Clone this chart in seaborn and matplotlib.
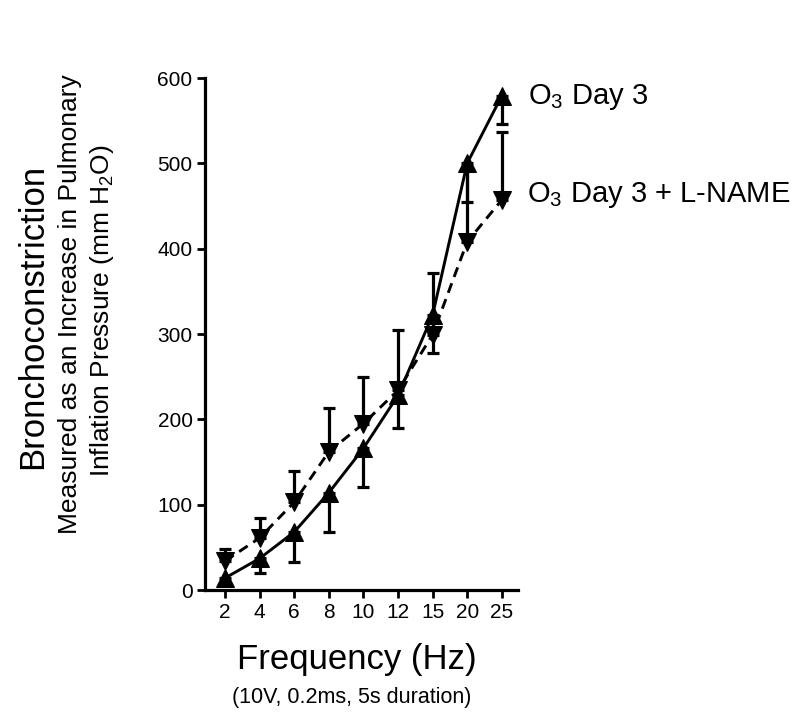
import matplotlib
matplotlib.use('Agg')
import matplotlib.pyplot as plt
import seaborn as sns
import numpy as np

# dados
freq_labels = ['2', '4', '6', '8', '10', '12', '15', '20', '25']
o3_mean = [14, 37, 68, 114, 166, 228, 322, 500, 579]
o3_err_low = [8, 17, 35, 46, 45, 38, 44, 45, 33]
lname_mean = [34, 61, 103, 162, 195, 234, 299, 408, 457]
lname_err_up = [14, 23, 37, 51, 55, 71, 73, 88, 80]

sns.set_theme(style="ticks")
plt.rcParams['font.family'] = ['Liberation Sans', 'DejaVu Sans']
plt.rcParams['mathtext.default'] = 'regular'
plt.rcParams['text.color'] = 'black'

W, H = 799, 728
fig = plt.figure(figsize=(W / 100, H / 100), dpi=100)
ax = fig.add_axes([205 / W, 1 - 590 / H, 313 / W, 512 / H])

pos = np.arange(len(freq_labels))

# barras de erro (uma só direção)
ax.errorbar(pos, o3_mean, yerr=[o3_err_low, np.zeros(len(pos))], fmt='none',
            ecolor='black', elinewidth=2.3, capsize=4.5, capthick=2.3, zorder=2)
ax.errorbar(pos, lname_mean, yerr=[np.zeros(len(pos)), lname_err_up], fmt='none',
            ecolor='black', elinewidth=2.3, capsize=4.5, capthick=2.3, zorder=2)

sns.lineplot(x=pos, y=o3_mean, ax=ax, color='black', linewidth=2.1,
             marker='^', markersize=12.5, markeredgecolor='black', zorder=3)
sns.lineplot(x=pos, y=lname_mean, ax=ax, color='black', linewidth=2.1,
             linestyle=(0, (3.5, 2.3)), marker='v', markersize=12.5,
             markeredgecolor='black', zorder=3)

ax.set_xlim(-0.58, 8.47)
ax.set_ylim(0, 600)
ax.set_xticks(pos)
ax.set_xticklabels(freq_labels)
ax.set_yticks(range(0, 601, 100))
ax.tick_params(axis='both', labelsize=15, length=6, width=2, pad=3, color='black',
               labelcolor='black')
for s in ['left', 'bottom']:
    ax.spines[s].set_linewidth(2.3)
    ax.spines[s].set_color('black')
sns.despine(ax=ax)

# rótulos do eixo y (três linhas)
fig.text(33 / W, 1 - 316 / H, 'Bronchoconstriction', rotation=90, fontsize=25,
         ha='center', va='center')
fig.text(70 / W, 1 - 304 / H, 'Measured as an Increase in Pulmonary', rotation=90,
         fontsize=19, ha='center', va='center')
fig.text(102 / W, 1 - 311 / H, 'Inflation Pressure (mm H$_2$O)', rotation=90,
         fontsize=19, ha='center', va='center')

# rótulos do eixo x
fig.text(357 / W, 1 - 660 / H, 'Frequency (Hz)', fontsize=25, ha='center', va='center')
fig.text(352 / W, 1 - 697 / H, '(10V, 0.2ms, 5s duration)', fontsize=15.5,
         ha='center', va='center')

# legendas diretas
fig.text(528 / W, 1 - 97 / H, 'O$_3$ Day 3', fontsize=21, ha='left', va='center')
fig.text(527 / W, 1 - 195 / H, 'O$_3$ Day 3 + L-NAME', fontsize=21, ha='left', va='center')

fig.savefig('out.png', dpi=100)
